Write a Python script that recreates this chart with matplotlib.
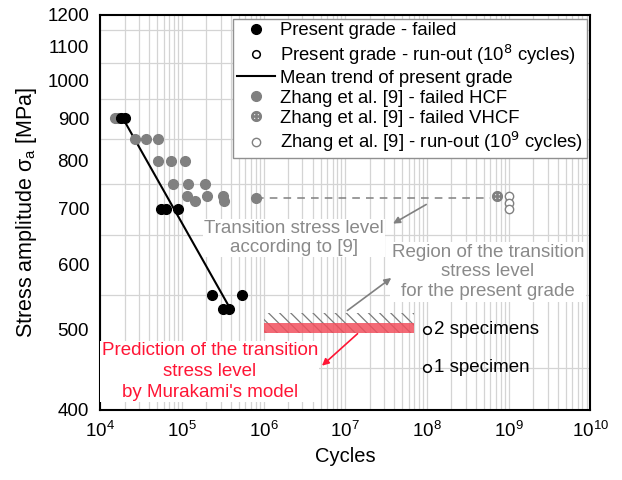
import numpy as np
import matplotlib.pyplot as plt
from matplotlib.ticker import FixedLocator, NullFormatter, LogLocator

plt.rcParams['font.family'] = ['Liberation Sans', 'DejaVu Sans']
plt.rcParams['hatch.linewidth'] = 0.9

# present grade - failed
pg_N = [1.8e4, 2.0e4, 5.6e4, 6.4e4, 9.0e4, 2.35e5, 3.2e5, 3.8e5, 5.5e5]
pg_S = [900, 900, 700, 700, 700, 550, 530, 530, 550]
# present grade - run-outs at 1e8
pg_run_N = [1e8, 1e8]
pg_run_S = [500, 450]
pg_run_txt = ['2 specimens', '1 specimen']
# mean trend
trend_N = [1.9e4, 4.0e5]
trend_S = [900, 528]
# Zhang et al. [9]
hcf_N = [1.5e4, 1.65e4, 2.7e4, 3.6e4, 5.1e4, 5.1e4, 7.4e4, 1.1e5, 7.8e4, 1.2e5, 1.9e5,
         1.16e5, 1.45e5, 2.05e5, 3.2e5, 3.3e5, 8.0e5]
hcf_S = [900, 900, 850, 850, 850, 800, 800, 800, 750, 750, 750,
         725, 716, 725, 725, 716, 722]
vhcf_N = [7.2e8]
vhcf_S = [725]
zh_run_N = [1.0e9, 1.0e9, 1.0e9]
zh_run_S = [725, 712, 700]
# transition levels
trans9_N = [8.0e5, 6.0e8]
trans9_S = 722
region_N = [1e6, 7e7]
region_S = [496, 524]
murakami_S = [496, 509]

fig = plt.figure(figsize=(6.22, 4.8), dpi=100)
ax = fig.add_axes([0.161, 0.146, 0.788, 0.823])
ax.set_xscale('log')
ax.set_yscale('log')
ax.set_xlim(1e4, 1e10)
ax.set_ylim(400, 1200)

gray = '#808080'
ax.plot(trans9_N, [trans9_S] * 2, ls=(0, (5, 4)), color=gray, lw=1.1, zorder=2)
ax.fill_between(region_N, region_S[0], region_S[1], facecolor='none', edgecolor='#7a7a7a',
                hatch='\\\\\\', lw=0, zorder=2)
ax.fill_between(region_N, murakami_S[0], murakami_S[1], facecolor='#f2505e', alpha=0.85,
                lw=0, zorder=2)

ax.plot(pg_N, pg_S, 'o', color='black', ms=7, zorder=4, label='Present grade - failed')
ax.plot(pg_run_N, pg_run_S, 'o', mfc='white', mec='black', mew=1.1, ms=5.5, zorder=4,
        label='Present grade - run-out (10$^8$ cycles)')
ax.plot(trend_N, trend_S, '-', color='black', lw=1.5, zorder=3, label='Mean trend of present grade')
ax.plot(hcf_N, hcf_S, 'o', color=gray, ms=7, zorder=3, label='Zhang et al. [9] - failed HCF')
ax.plot(vhcf_N, vhcf_S, marker=r'$\oplus$', ls='none', color=gray, ms=7, zorder=3,
        label='Zhang et al. [9] - failed VHCF')
ax.plot(zh_run_N, zh_run_S, 'o', mfc='white', mec=gray, mew=1.0, ms=6, zorder=3,
        label='Zhang et al. [9] - run-out (10$^9$ cycles)')

for n, s, t in zip(pg_run_N, pg_run_S, pg_run_txt):
    ax.text(n * 1.22, s, t, fontsize=13.5, va='center', ha='left', zorder=5)

wbox = dict(facecolor='white', edgecolor='none', pad=1)
ax.text(2.35e6, 645, 'Transition stress level\naccording to [9]', color='#8a8a8a', fontsize=13.5,
        ha='center', va='center', linespacing=1.15, bbox=wbox, zorder=5)
ax.annotate('', xy=(3.6e7, 669), xytext=(1.05e8, 711),
            arrowprops=dict(arrowstyle='-|>', color=gray, lw=1.2, mutation_scale=10), zorder=5)
ax.text(5.6e8, 587, 'Region of the transition\nstress level\nfor the present grade', color='#8a8a8a',
        fontsize=13.5, ha='center', va='center', linespacing=1.22, bbox=wbox, zorder=5)
ax.annotate('', xy=(3.9e7, 580), xytext=(1.0e7, 525),
            arrowprops=dict(arrowstyle='-|>', color=gray, lw=1.2, mutation_scale=10), zorder=5)
ax.text(2.2e5, 445, "Prediction of the transition\nstress level\nby Murakami's model", color='#ff1535',
        fontsize=13.5, ha='center', va='center', linespacing=1.3, bbox=wbox, zorder=5)
ax.annotate('', xy=(4.9e6, 450), xytext=(1.5e7, 497),
            arrowprops=dict(arrowstyle='-|>', color='#ff1535', lw=1.2, mutation_scale=10), zorder=6)

# ticks and grid
ax.yaxis.set_major_locator(FixedLocator([400, 500, 600, 700, 800, 900, 1000, 1100, 1200]))
ax.yaxis.set_major_formatter(plt.FuncFormatter(lambda v, p: f'{v:.0f}'))
ax.yaxis.set_minor_locator(FixedLocator([450, 550, 650, 750, 850, 950, 1050, 1150]))
ax.yaxis.set_minor_formatter(NullFormatter())
ax.xaxis.set_major_locator(LogLocator(base=10, numticks=10))
ax.xaxis.set_minor_locator(LogLocator(base=10, subs=np.arange(2, 10), numticks=100))
ax.xaxis.set_minor_formatter(NullFormatter())
ax.tick_params(which='both', length=0, labelsize=13.5, pad=8)
ax.grid(False, which='major', axis='y')
ax.grid(True, which='minor', axis='y', color='#d4d4d4', lw=0.9)
ax.grid(True, which='both', axis='x', color='#d4d4d4', lw=0.9)
ax.set_axisbelow(True)
for sp in ax.spines.values():
    sp.set_linewidth(1.5)

ax.set_xlabel('Cycles', fontsize=14.5, labelpad=4)
ax.set_ylabel(r'Stress amplitude σ$_\mathregular{a}$ [MPa]', fontsize=15.5, labelpad=6)

leg = ax.legend(loc='upper right', fontsize=13.3, frameon=True, fancybox=False, framealpha=1,
                edgecolor='#909090', handlelength=2.1, handletextpad=0.25, labelspacing=0.17,
                borderpad=0.2, borderaxespad=0.2)
leg.get_frame().set_linewidth(1.0)

fig.savefig('out.png', dpi=100)
